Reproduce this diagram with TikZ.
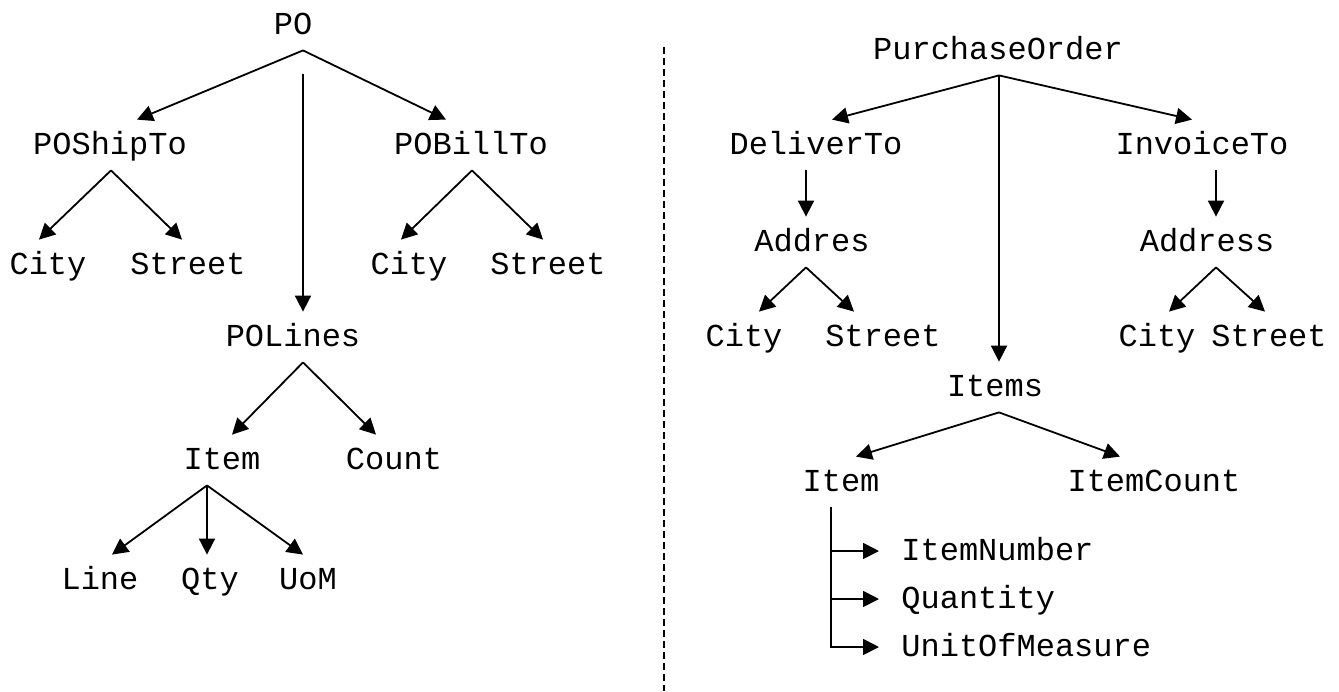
\documentclass[tikz,border=0pt]{standalone}
\usepackage{fontspec}
\setmonofont{Liberation Mono}
\usetikzlibrary{arrows.meta}
\tikzset{
  elem/.style={font=\ttfamily\fontsize{16}{18}\selectfont,inner xsep=0pt,
               inner ysep=8pt,text height=9pt,text depth=0pt},
  leaf/.style={elem,anchor=west},
  flow/.style={-{Triangle[length=8pt,width=8pt]},line width=0.9pt},
  sepline/.style={dash pattern=on 3.5pt off 2pt,line width=0.6pt},
}
\begin{document}
\begin{tikzpicture}[x=0.5pt,y=-0.5pt]
    \useasboundingbox (0,0) rectangle (1339,691);
    % --- left tree: abbreviated element names ---
    \node[elem] (po)       at (293,25)  {PO};
    \node[elem] (poShip)   at (110,145) {POShipTo};
    \node[elem] (poBill)   at (471,145) {POBillTo};
    \node[elem] (shCity)   at (48,265)  {City};
    \node[elem] (shStreet) at (188,265) {Street};
    \node[elem] (biCity)   at (409,265) {City};
    \node[elem] (biStreet) at (548,265) {Street};
    \node[elem] (poLines)  at (293,337) {POLines};
    \node[elem] (item)     at (222,460) {Item};
    \node[elem] (count)    at (394,460) {Count};
    \node[elem] (pLine)    at (100,580) {Line};
    \node[elem] (pQty)     at (210,580) {Qty};
    \node[elem] (pUoM)     at (308,580) {UoM};
    \draw[flow] ([xshift=5pt]po.south) -- ([xshift=13.5pt]poShip.north);
    \draw[flow] ([xshift=5pt]po.south) -- ([xshift=-12.5pt]poBill.north);
    \draw[flow,shorten <=12pt] ([xshift=5pt]po.south) -- ([xshift=5pt]poLines.north);
    \draw[flow] ([xshift=0.5pt]poShip.south) -- ([xshift=-4.5pt]shCity.north);
    \draw[flow] ([xshift=0.5pt]poShip.south) -- ([xshift=-3pt]shStreet.north);
    \draw[flow] ([xshift=0.5pt]poBill.south) -- ([xshift=-4pt]biCity.north);
    \draw[flow] ([xshift=0.5pt]poBill.south) -- ([xshift=-2.5pt]biStreet.north);
    \draw[flow] ([xshift=5pt]poLines.south) -- ([xshift=5pt]item.north);
    \draw[flow] ([xshift=5pt]poLines.south) -- ([xshift=-9pt]count.north);
    \draw[flow] ([xshift=-7.5pt]item.south) -- ([xshift=6pt]pLine.north);
    \draw[flow] ([xshift=-7.5pt]item.south) -- ([xshift=-1.5pt]pQty.north);
    \draw[flow] ([xshift=-7.5pt]item.south) -- ([xshift=-2.5pt]pUoM.north);
    % --- separator ---
    \coordinate (sepTop) at (664,47);
    \coordinate (sepBot) at (664,691);
    \draw[sepline] (sepTop) -- (sepBot);
    % --- right tree: full element names ---
    \node[elem] (order)    at (998,50)   {PurchaseOrder};
    \node[elem] (deliver)  at (816,145)  {DeliverTo};
    \node[elem] (invoice)  at (1202,145) {InvoiceTo};
    \node[elem] (dAddr)    at (812,242)  {Addres};
    \node[elem] (iAddr)    at (1207,242) {Address};
    \node[elem] (dCity)    at (744,337)  {City};
    \node[elem] (dStreet)  at (883,337)  {Street};
    \node[elem] (iCity)    at (1157,337) {City};
    \node[elem] (iStreet)  at (1269,337) {Street};
    \node[elem] (items)    at (995,387)  {Items};
    \node[elem] (itm)      at (841,482)  {Item};
    \node[elem] (itmCount) at (1154,482) {ItemCount};
    \node[leaf] (itmNum)   at (901,551)  {ItemNumber};
    \node[leaf] (itmQty)   at (901,599)  {Quantity};
    \node[leaf] (itmUom)   at (901,647)  {UnitOfMeasure};
    \draw[flow] ([xshift=0.5pt]order.south) -- ([xshift=8pt]deliver.north);
    \draw[flow] ([xshift=0.5pt]order.south) -- ([xshift=-5pt]invoice.north);
    \draw[flow] ([xshift=0.5pt]order.south) -- ([xshift=2pt]items.north);
    \draw[flow] ([xshift=-5pt]deliver.south) -- ([xshift=-3pt]dAddr.north);
    \draw[flow] ([xshift=7pt]invoice.south) -- ([xshift=4.5pt]iAddr.north);
    \draw[flow] ([xshift=-3pt]dAddr.south) -- ([xshift=7.5pt]dCity.north);
    \draw[flow] ([xshift=-3pt]dAddr.south) -- ([xshift=-14.5pt]dStreet.north);
    \draw[flow] ([xshift=4.5pt]iAddr.south) -- ([xshift=6pt]iCity.north);
    \draw[flow] ([xshift=4.5pt]iAddr.south) -- ([xshift=-2pt]iStreet.north);
    \draw[flow] ([xshift=2pt]items.south) -- ([xshift=7.5pt]itm.north);
    \draw[flow] ([xshift=2pt]items.south) -- ([xshift=-17pt]itmCount.north);
    \draw[flow,shorten >=11pt] ([xshift=-5pt]itm.south) |- (itmNum.west);
    \draw[flow,shorten >=11pt] ([xshift=-5pt]itm.south) |- (itmQty.west);
    \draw[flow,shorten >=11pt] ([xshift=-5pt]itm.south) |- (itmUom.west);
\end{tikzpicture}
\end{document}
